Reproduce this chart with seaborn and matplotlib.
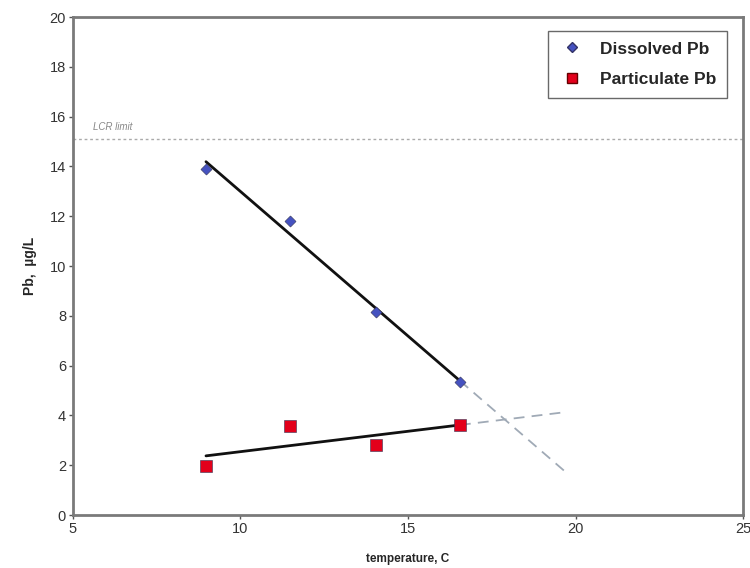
import numpy as np
import pandas as pd
import seaborn as sns
import matplotlib.pyplot as plt
from matplotlib.lines import Line2D

# data
temp = [8.97, 11.47, 14.03, 16.55]
dissolved_pb = [13.9, 11.8, 8.15, 5.33]
particulate_pb = [1.98, 3.57, 2.81, 3.62]
lcr_limit = 15.1
forecast_end = 19.75

df = pd.DataFrame({
    'temperature': temp * 2,
    'Pb': dissolved_pb + particulate_pb,
    'kind': ['Dissolved Pb'] * len(temp) + ['Particulate Pb'] * len(temp),
})

colors = {'Dissolved Pb': '#4552c0', 'Particulate Pb': '#e3001b'}
markers = {'Dissolved Pb': 'D', 'Particulate Pb': 's'}
sizes = {'Dissolved Pb': 32, 'Particulate Pb': 70}

sns.set_style('white')
plt.rcParams['font.family'] = ['Liberation Sans', 'DejaVu Sans']

fig = plt.figure(figsize=(7.5, 5.68), dpi=100)
ax = fig.add_axes([0.0973, 0.0933, 0.8934, 0.8767])

# trend lines (least squares), solid over data, dashed forecast
for y in [dissolved_pb, particulate_pb]:
    k, b = np.polyfit(temp, y, 1)
    xs = np.array([min(temp), max(temp)])
    ax.plot(xs, k * xs + b, color='#111111', lw=2, zorder=3)
    xf = np.array([max(temp), forecast_end])
    ax.plot(xf, k * xf + b, color='#a0aab6', lw=1.3, ls=(0, (6, 4)), zorder=2)

for kind, sub in df.groupby('kind'):
    sns.scatterplot(data=sub, x='temperature', y='Pb', marker=markers[kind],
                    color=colors[kind], s=sizes[kind], edgecolor='#333355',
                    linewidth=0.4, legend=False, ax=ax, zorder=4)

# LCR limit line
ax.axhline(lcr_limit, color='#aaaaaa', lw=1, ls=(0, (2, 2)), zorder=1)
ax.text(5.6, lcr_limit + 0.35, 'LCR limit', fontsize=7, style='italic',
        color='#888888')

ax.set_xlim(5, 25)
ax.set_ylim(0, 20)
ax.set_xticks([5, 10, 15, 20, 25])
ax.set_yticks(range(0, 21, 2))
ax.tick_params(axis='both', direction='out', length=3, width=1,
               color='#555555', labelsize=10.5, labelcolor='#333333', pad=2,
               bottom=True, left=True)
for side in ax.spines.values():
    side.set_color('#7a7a7a')
    side.set_linewidth(2)

ax.set_xlabel('temperature, C', fontsize=8.5, fontweight='bold', labelpad=12)
ax.set_ylabel('Pb,  µg/L', fontsize=10, fontweight='bold', labelpad=9)

handles = [
    Line2D([], [], marker='D', color='none', markerfacecolor=colors['Dissolved Pb'],
           markeredgecolor='#333366', markersize=5.5),
    Line2D([], [], marker='s', color='none', markerfacecolor=colors['Particulate Pb'],
           markeredgecolor='#660000', markersize=7.5),
]
leg = ax.legend(handles, ['Dissolved Pb', 'Particulate Pb'],
                loc='upper right', bbox_to_anchor=(0.976, 0.972),
                borderaxespad=0, fancybox=False, frameon=True,
                prop={'weight': 'bold', 'size': 12.5},
                handletextpad=0.8, labelspacing=0.9, borderpad=0.6,
                handlelength=1.6)
leg.get_frame().set_edgecolor('#444444')
leg.get_frame().set_linewidth(1)

fig.savefig('out.png', dpi=100)
